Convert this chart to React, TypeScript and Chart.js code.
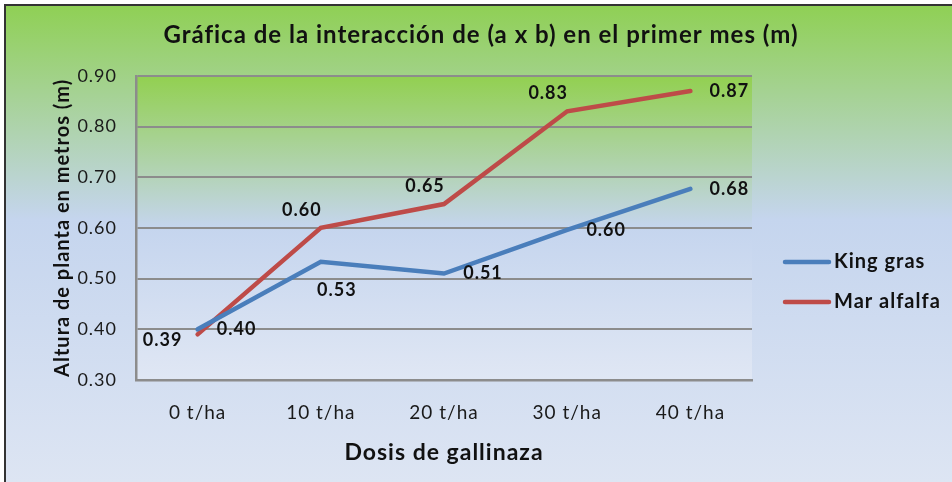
import React, { useEffect, useRef } from 'react';
import { Chart, registerables } from 'chart.js';

Chart.register(...registerables);

const titleText = 'Gráfica de la interacción de (a x b) en el primer mes (m)';
const xAxisTitle = 'Dosis de gallinaza';
const yAxisTitle = 'Altura de planta en metros (m)';

const categories = ['0 t/ha', '10 t/ha', '20 t/ha', '30 t/ha', '40 t/ha'];
const kingGras = [0.4, 0.533, 0.51, 0.596, 0.677];
const marAlfalfa = [0.39, 0.6, 0.647, 0.83, 0.87];
const seriesNames = ['King gras', 'Mar alfalfa'];
const yMin = 0.3;
const yMax = 0.9;
const yStep = 0.1;

// label placement keywords (style only)
const kingGrasLabelPos = ['right', 'below', 'right', 'right', 'right'];
const marAlfalfaLabelPos = ['left', 'above', 'above', 'above', 'right'];

const FONT = 'Lato, "Open Sans", sans-serif';
const BLUE = '#4a7ebb';
const RED = '#be4b48';

const posOffset: Record<string, [number, number]> = {
  right: [39, 0],
  left: [-35, 6],
  below: [16, 28],
  above: [-19, -18],
};

const backgroundPlugin = {
  id: 'bgPlugin',
  beforeDraw(chart: any) {
    const { ctx, width, height, chartArea } = chart;
    try {
      ctx.letterSpacing = '1px';
    } catch (e) {}
    ctx.save();
    ctx.fillStyle = '#ffffff';
    ctx.fillRect(0, 0, width, height);
    const g = ctx.createLinearGradient(0, 5, 0, height);
    g.addColorStop(0, '#8fd054');
    g.addColorStop(0.45, '#c5d5ee');
    g.addColorStop(1, '#dde5f3');
    ctx.fillStyle = g;
    ctx.fillRect(5, 5, width - 5, height - 5);
    ctx.fillStyle = '#333333';
    ctx.fillRect(4, 4, width - 4, 2);
    ctx.fillRect(4, 4, 2, height - 4);
    const { left, top, right, bottom } = chartArea;
    const pg = ctx.createLinearGradient(0, top, 0, bottom);
    pg.addColorStop(0, '#92d050');
    pg.addColorStop(0.5, '#c5d5ee');
    pg.addColorStop(1, '#e0e7f4');
    ctx.fillStyle = pg;
    ctx.fillRect(left, top, right - left, bottom - top);
    ctx.restore();
  },
};

const labelsPlugin = {
  id: 'valueLabels',
  afterDatasetsDraw(chart: any) {
    const { ctx } = chart;
    const positions = [kingGrasLabelPos, marAlfalfaLabelPos];
    ctx.save();
    ctx.font = `bold 18px ${FONT}`;
    ctx.fillStyle = '#111111';
    ctx.textAlign = 'center';
    ctx.textBaseline = 'middle';
    chart.data.datasets.forEach((ds: any, di: number) => {
      const meta = chart.getDatasetMeta(di);
      meta.data.forEach((pt: any, i: number) => {
        const [dx, dy] = posOffset[positions[di][i]];
        ctx.fillText(Number(ds.data[i]).toFixed(2), pt.x + dx, pt.y + dy);
      });
    });
    ctx.restore();
  },
};

const legendPlugin = {
  id: 'customLegend',
  afterDraw(chart: any) {
    const { ctx, chartArea } = chart;
    const x0 = chartArea.right + 33;
    const y0 = 262;
    ctx.save();
    ctx.font = `bold 20px ${FONT}`;
    ctx.textBaseline = 'middle';
    ctx.textAlign = 'left';
    chart.data.datasets.forEach((ds: any, i: number) => {
      const y = y0 + i * 40;
      ctx.strokeStyle = ds.borderColor;
      ctx.lineWidth = 4.5;
      ctx.lineCap = 'round';
      ctx.beginPath();
      ctx.moveTo(x0, y);
      ctx.lineTo(x0 + 44, y);
      ctx.stroke();
      ctx.fillStyle = '#111111';
      ctx.fillText(ds.label, x0 + 49, y);
    });
    ctx.restore();
  },
};

export default function App() {
  const ref = useRef<HTMLCanvasElement>(null);
  useEffect(() => {
    if (!ref.current) return;
    const chart = new Chart(ref.current, {
      type: 'line',
      data: {
        labels: categories,
        datasets: [
          {
            label: seriesNames[0],
            data: kingGras,
            borderColor: BLUE,
            backgroundColor: BLUE,
            borderWidth: 4.5,
            pointRadius: 0,
            tension: 0,
            borderCapStyle: 'round',
          },
          {
            label: seriesNames[1],
            data: marAlfalfa,
            borderColor: RED,
            backgroundColor: RED,
            borderWidth: 4.5,
            pointRadius: 0,
            tension: 0,
            borderCapStyle: 'round',
          },
        ],
      },
      options: {
        animation: false,
        responsive: false,
        layout: { padding: { left: 10, right: 0, top: 0, bottom: 0 } },
        plugins: {
          legend: { display: false },
          tooltip: { enabled: false },
          title: {
            display: true,
            text: titleText,
            color: '#111111',
            font: { family: FONT, size: 24, weight: 'bold' },
            padding: { top: 21, bottom: 26 },
          },
        },
        scales: {
          x: {
            type: 'category',
            offset: true,
            grid: { display: false, drawTicks: false },
            border: { display: true, color: '#8c8c8c', width: 2.5 },
            ticks: {
              color: '#1a1a1a',
              font: { family: FONT, size: 19 },
              padding: 21,
            },
            title: {
              display: true,
              text: xAxisTitle,
              color: '#111111',
              font: { family: FONT, size: 23, weight: 'bold' },
              padding: { top: 0, bottom: 16 },
            },
            afterFit(scale: any) {
              scale.height = 102;
            },
          },
          y: {
            min: yMin,
            max: yMax,
            grid: { color: '#8c8c8c', lineWidth: 2, drawTicks: false },
            border: { display: true, color: '#8c8c8c', width: 2.5 },
            ticks: {
              stepSize: yStep,
              color: '#1a1a1a',
              font: { family: FONT, size: 18 },
              padding: 19,
              callback: (v: any) => Number(v).toFixed(2),
            },
            title: {
              display: true,
              text: yAxisTitle,
              color: '#111111',
              font: { family: FONT, size: 20, weight: 'bold' },
              padding: { top: 41, bottom: 0 },
            },
            afterFit(scale: any) {
              scale.width = 126;
            },
          },
          legendSpace: {
            type: 'linear',
            position: 'right',
            display: true,
            grid: { display: false, drawTicks: false },
            border: { display: false },
            ticks: { display: false },
            afterFit(scale: any) {
              scale.width = 200;
            },
          },
        },
      },
      plugins: [backgroundPlugin, labelsPlugin, legendPlugin],
    } as any);
    return () => chart.destroy();
  }, []);
  return (
    <div style={{ position: 'absolute', left: 0, top: 0, width: 952, height: 482 }}>
      <canvas ref={ref} width={952} height={482} />
    </div>
  );
}
